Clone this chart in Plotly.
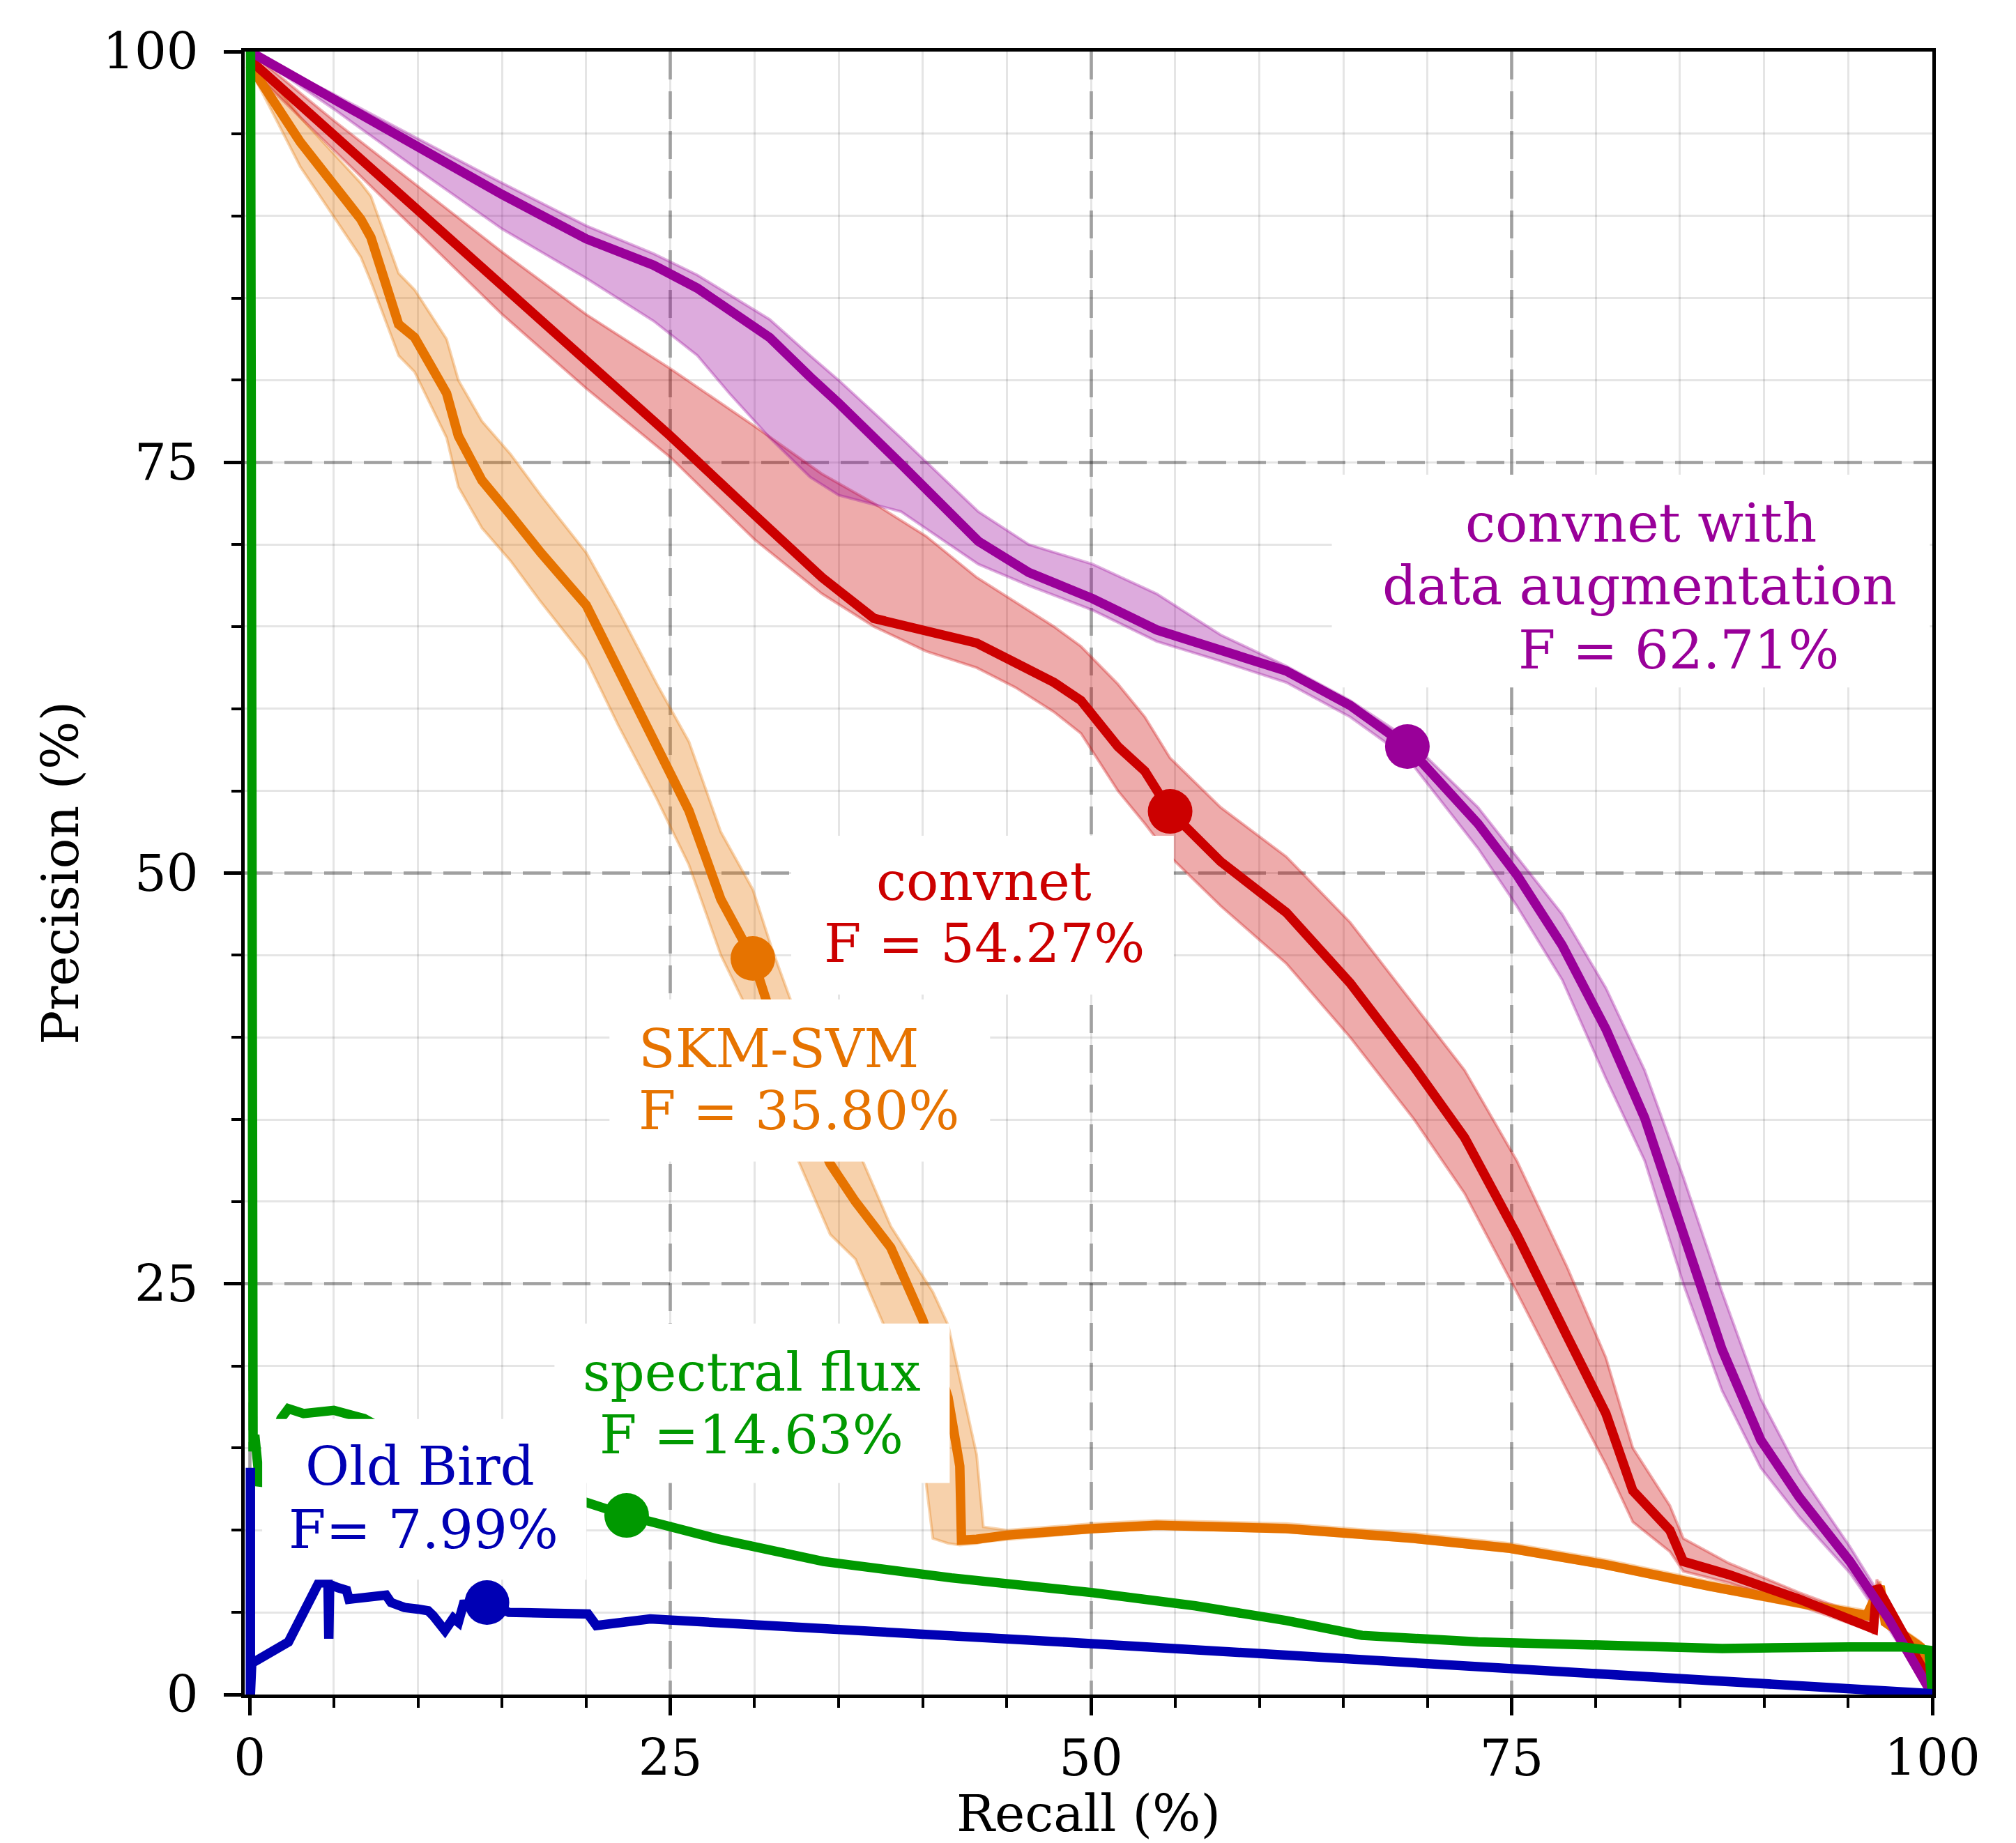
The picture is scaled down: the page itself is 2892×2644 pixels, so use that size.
import plotly.graph_objects as go

# ---------------- data ----------------
purple_x = [0, 5, 10, 15, 20, 24, 26.6, 28.5, 30.9, 33.3, 35, 38.7, 43.3, 46.3, 50.1, 53.9,
            57.7, 61.6, 65.4, 68.8, 73, 75.3, 78, 80.6, 82.9, 85.2, 87.5, 89.8, 92.1, 95.1, 97.4, 100]
purple_y = [100, 97.1, 94.2, 91.3, 88.6, 87.0, 85.6, 84.2, 82.6, 80.2, 78.6, 74.9, 70.2, 68.3, 66.7, 64.8,
            63.6, 62.3, 60.2, 57.7, 53.0, 49.9, 45.6, 40.5, 35.1, 28.0, 21.0, 15.5, 12.0, 8.1, 4.6, 0]
purple_lo = [100, 96.5, 92.8, 89.2, 86.2, 83.6, 81.5, 79.2, 76.5, 74.1, 73.0, 72.0, 68.8, 67.5, 66.0, 64.1,
             62.9, 61.6, 59.5, 57.0, 51.5, 48.0, 43.5, 37.5, 32.5, 25.0, 18.5, 13.8, 10.8, 7.4, 4.0, 0]
purple_hi = [100, 97.4, 94.7, 92.0, 89.4, 87.7, 86.4, 85.2, 83.7, 81.5, 80.0, 76.5, 72.0, 70.0, 68.8, 67.0,
             64.5, 62.6, 60.5, 58.2, 54.0, 51.0, 47.5, 43.0, 38.0, 31.5, 24.5, 18.0, 13.5, 9.0, 5.2, 0]

red_x = [0, 5, 10, 15, 20, 25, 30, 34, 37.1, 40.2, 43.2, 45.5, 47.8, 49.4, 51.6, 53.2, 54.7, 57.7,
         61.6, 65.4, 69.2, 72.2, 75.3, 78.3, 80.6, 82.2, 84.4, 85.2, 87.9, 92.1, 96.3, 96.5, 96.7, 100]
red_y = [99.5, 94.9, 90.3, 85.7, 81.1, 76.6, 71.8, 68.0, 65.5, 64.8, 64.0, 62.8, 61.6, 60.5, 57.7, 56.2, 53.75, 50.7,
         47.6, 43.3, 38.2, 33.9, 28.0, 21.8, 17.1, 12.4, 10.0, 8.1, 7.3, 5.8, 4.2, 4.0, 6.6, 0.5]
red_lo = [99, 94, 89, 84, 79.5, 75.3, 70.3, 67.0, 65.0, 63.5, 62.5, 61.3, 59.8, 58.5, 55.0, 53.0, 51.0, 48.0,
          44.5, 40.0, 35.0, 30.5, 24.5, 18.5, 14.0, 10.5, 8.7, 7.5, 6.8, 5.4, 3.9, 3.7, 6.3, 0.3]
red_hi = [100, 95.8, 91.8, 87.8, 84.0, 80.7, 77.2, 74.3, 72.5, 70.5, 68.0, 66.5, 65.0, 63.8, 61.5, 59.5, 57.0, 54.0,
          51.0, 47.0, 42.0, 38.0, 32.5, 26.0, 20.5, 15.0, 11.5, 9.5, 8.0, 6.2, 4.6, 4.4, 7.0, 0.8]

orange_x = [0, 3, 6.6, 7.2, 8.85, 9.8, 10.75, 11.7, 12.4, 13.8, 15.5, 17.3, 20, 21.9, 24.2, 26.1, 28, 29.9,
            31, 32.6, 34.5, 36, 38.1, 40, 40.6, 41.5, 42.2, 42.3, 43.2, 43.6, 45, 50.1, 53.9, 57.7, 61.6,
            65.4, 69.2, 74.9, 80.6, 86.7, 92.8, 96.1, 96.9, 97.2, 99.3, 100]
orange_y = [99.2, 94.5, 89.8, 88.7, 83.4, 82.6, 80.9, 79.2, 76.6, 73.9, 71.8, 69.5, 66.3, 62.4, 57.7, 53.8, 48.4, 44.8,
            41.3, 36.6, 32.3, 30.0, 27.2, 22.8, 20.9, 18.1, 13.9, 9.4, 9.45, 9.5, 9.7, 10.1, 10.3, 10.2, 10.1,
            9.8, 9.5, 8.9, 7.9, 6.6, 5.4, 4.8, 6.6, 4.4, 2.9, 0.5]
orange_lo = [99, 93, 87.5, 86.0, 81.5, 80.5, 78.5, 76.5, 73.5, 71.0, 69.0, 66.5, 63.0, 59.0, 54.5, 50.5, 45.0, 41.0,
             37.5, 32.5, 28.0, 26.5, 21.5, 14.5, 9.5, 9.2, 9.1, 9.1, 9.2, 9.3, 9.4, 9.9, 10.1, 10.0, 9.9,
             9.6, 9.3, 8.7, 7.7, 6.4, 5.2, 4.6, 6.4, 4.2, 2.7, 0.3]
orange_hi = [100, 96, 92, 91.2, 86.5, 85.5, 84, 82.5, 80.0, 77.5, 75.5, 73.0, 69.5, 66.0, 61.5, 58.0, 52.5, 49.0,
             45.5, 41.0, 36.0, 33.5, 28.5, 25.5, 24.5, 22.5, 19.2, 18.8, 14.6, 10.2, 10.0, 10.4, 10.6, 10.5, 10.4,
             10.1, 9.8, 9.2, 8.2, 6.9, 5.7, 5.1, 6.9, 4.7, 3.2, 0.8]

green_x = [0.05, 0.08, 0.12, 0.2, 0.3, 0.45, 0.6, 1.86, 2.3, 3.2, 5.0, 6.8, 10, 13, 16, 20, 22.4, 27.7, 34.1,
           41.7, 50.1, 56.2, 61.6, 66.1, 73, 80.6, 87.5, 95.1, 98.2, 99.8, 100]
green_y = [100, 60, 16, 14.8, 15.8, 14, 12.7, 16.8, 17.4, 17.1, 17.3, 16.8, 15.0, 13.7, 12.7, 11.7, 10.9, 9.5, 8.1,
           7.1, 6.2, 5.4, 4.5, 3.6, 3.2, 3.0, 2.8, 2.9, 2.9, 2.7, 0]

blue_x = [0.04, 0.04, 0.12, 2.3, 4.1, 4.65, 4.7, 4.75, 5.25, 5.75, 5.9, 6.5, 8.1, 8.4, 9.2, 10, 10.6, 10.9,
          11.6, 12.1, 12.4, 12.7, 14.1, 15.4, 20.1, 20.6, 23.8, 50, 75, 100]
blue_y = [13.8, 0, 1.9, 3.2, 6.8, 6.8, 3.4, 6.7, 6.5, 6.35, 5.8, 5.9, 6.05, 5.6, 5.3, 5.2, 5.1, 4.8,
          3.9, 4.65, 4.4, 5.5, 5.6, 5.0, 4.9, 4.2, 4.6, 3.1, 1.6, 0.05]

# best-F operating points (recall, precision)
best_points = {
    "SKM-SVM": (29.9, 44.8),
    "convnet": (54.7, 53.75),
    "convnet with data augmentation": (68.8, 57.7),
    "spectral flux": (22.4, 10.9),
    "Old Bird": (14.1, 5.6),
}

tick_vals = [0, 25, 50, 75, 100]
tick_text = ["0", "25", "50", "75", "100"]

# ---------------- styling ----------------
FONT = "DejaVu Serif"
C_PURPLE = "#990099"
C_RED = "#CC0000"
C_ORANGE = "#E67300"
C_GREEN = "#009900"
C_BLUE = "#0000B4"


def rgba(hexc, a):
    h = hexc.lstrip("#")
    r, g, b = int(h[0:2], 16), int(h[2:4], 16), int(h[4:6], 16)
    return f"rgba({r},{g},{b},{a})"


fig = go.Figure()


def add_band(x, lo, hi, color):
    fig.add_trace(go.Scatter(
        x=list(x) + list(x)[::-1], y=list(hi) + list(lo)[::-1],
        fill="toself", fillcolor=rgba(color, 0.33),
        line=dict(color=rgba(color, 0.3), width=4),
        mode="lines", hoverinfo="skip", showlegend=False))


add_band(orange_x, orange_lo, orange_hi, C_ORANGE)
add_band(red_x, red_lo, red_hi, C_RED)
add_band(purple_x, purple_lo, purple_hi, C_PURPLE)

LW = 13.5
for xs, ys, c in [(orange_x, orange_y, C_ORANGE), (red_x, red_y, C_RED),
                  (purple_x, purple_y, C_PURPLE), (green_x, green_y, C_GREEN),
                  (blue_x, blue_y, C_BLUE)]:
    fig.add_trace(go.Scatter(x=xs, y=ys, mode="lines",
                             line=dict(color=c, width=LW, shape="linear"),
                             showlegend=False, hoverinfo="skip"))

marker_colors = {"SKM-SVM": C_ORANGE, "convnet": C_RED,
                 "convnet with data augmentation": C_PURPLE,
                 "spectral flux": C_GREEN, "Old Bird": C_BLUE}
for name, (px, py) in best_points.items():
    fig.add_trace(go.Scatter(x=[px], y=[py], mode="markers",
                             marker=dict(color=marker_colors[name], size=64, line=dict(width=0)),
                             showlegend=False, hoverinfo="skip"))

# white label boxes (data coordinates)
boxes = [
    (64.31, 99.85, 61.3, 74.25),   # convnet with data augmentation
    (32.18, 54.92, 42.61, 52.27),  # convnet
    (21.38, 44.0, 32.44, 42.31),   # SKM-SVM
    (18.11, 41.6, 12.88, 22.58),   # spectral flux
    (0.74, 20.02, 6.99, 16.77),    # Old Bird
]
for x0, x1, y0, y1 in boxes:
    fig.add_shape(type="rect", xref="x", yref="y", x0=x0, x1=x1, y0=y0, y1=y1,
                  fillcolor="white", line=dict(width=0), layer="above")

FS = 77
labels = [
    ("convnet with", 82.67, 71.28, "center", C_PURPLE),
    ("data augmentation", 82.59, 67.47, "center", C_PURPLE),
    ("F = 62.71%", 84.95, 63.57, "center", C_PURPLE),
    ("convnet", 43.63, 49.47, "center", C_RED),
    ("F = 54.27%", 43.67, 45.70, "center", C_RED),
    ("SKM-SVM", 23.04, 39.31, "left", C_ORANGE),
    ("F = 35.80%", 23.04, 35.54, "left", C_ORANGE),
    ("spectral flux", 29.86, 19.61, "center", C_GREEN),
    ("F =14.63%", 29.82, 15.80, "center", C_GREEN),
    ("Old Bird", 10.13, 13.89, "center", C_BLUE),
    ("F= 7.99%", 10.34, 10.04, "center", C_BLUE),
]
for txt, x, y, anchor, c in labels:
    fig.add_annotation(x=x, y=y, xref="x", yref="y", text=txt, showarrow=False,
                       xanchor=anchor, yanchor="middle",
                       font=dict(family=FONT, size=FS, color=c))

axis_common = dict(
    tickmode="array", tickvals=tick_vals, ticktext=tick_text,
    ticks="outside", ticklen=25, tickwidth=5, tickcolor="black",
    showline=True, linewidth=5, linecolor="black", mirror=True,
    showgrid=True, gridcolor="rgba(0,0,0,0.3)", gridwidth=5, griddash="40px,17px",
    zeroline=False, automargin=False,
    tickfont=dict(family=FONT, size=72, color="black"),
    minor=dict(dtick=5, tick0=0, ticks="outside", ticklen=14, tickwidth=4, tickcolor="black",
               showgrid=True, gridcolor="rgba(0,0,0,0.1)", gridwidth=3, griddash="solid"),
)

fig.update_xaxes(range=[-0.3, 100], ticklabelstandoff=0,
                 title=dict(text="Recall (%)", font=dict(family=FONT, size=73, color="black"), standoff=48),
                 **axis_common)
fig.update_yaxes(range=[0, 100], ticklabelstandoff=22,
                 title=dict(text="Precision (%)", font=dict(family=FONT, size=73, color="black"), standoff=12),
                 **axis_common)

fig.update_layout(
    width=2892, height=2644,
    margin=dict(l=351, r=120, t=74, b=213),
    paper_bgcolor="white", plot_bgcolor="white",
    showlegend=False,
    font=dict(family=FONT, color="black"),
)

fig.write_html("out.html")
